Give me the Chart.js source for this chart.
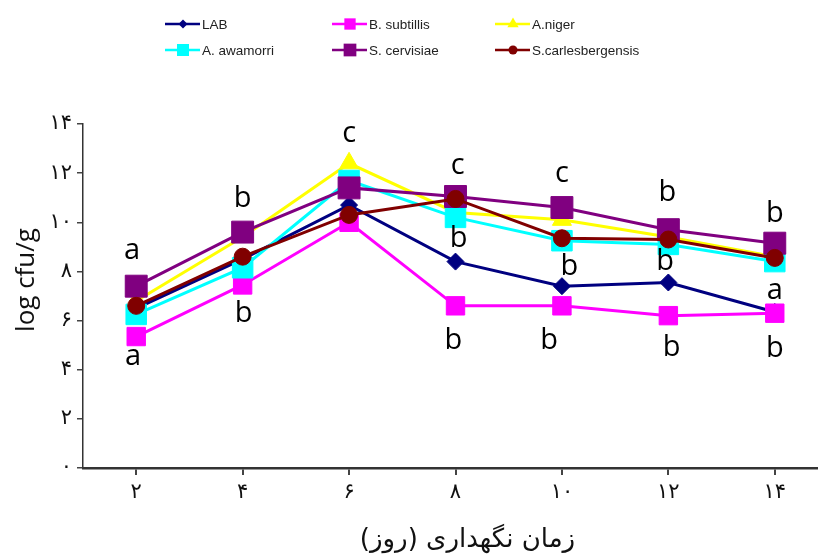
<!DOCTYPE html>
<html>
<head>
<meta charset="utf-8">
<script src="https://cdn.jsdelivr.net/npm/chart.js@4.4.1/dist/chart.umd.min.js"></script>
<style>
  html, body { margin: 0; padding: 0; background: #fff; overflow: hidden; }
  #chart { position: absolute; left: 0; top: 0; }
</style>
</head>
<body>
<canvas id="chart" width="828" height="558"></canvas>
<script>
// storage day (x) and log cfu/g (y)
const days = ['۲', '۴', '۶', '۸', '۱۰', '۱۲', '۱۴'];
const yTickLabels = ['۰', '۲', '۴', '۶', '۸', '۱۰', '۱۲', '۱۴'];
const xTitle = 'زمان نگهداری (روز)';
const yTitle = 'log cfu/g';

const seriesNames = ['LAB', 'B. subtillis', 'A.niger', 'A. awamorri', 'S. cervisiae', 'S.carlesbergensis'];
const lab = [6.5, 8.5, 10.7, 8.4, 7.4, 7.55, 6.35];
const bSubtillis = [5.35, 7.45, 10.0, 6.6, 6.6, 6.2, 6.3];
const aNiger = [6.8, 9.4, 12.4, 10.4, 10.1, 9.4, 8.6];
const aAwamorri = [6.25, 8.15, 11.7, 10.2, 9.25, 9.1, 8.4];
const sCervisiae = [7.4, 9.6, 11.4, 11.05, 10.6, 9.7, 9.15];
const sCarlesbergensis = [6.6, 8.6, 10.3, 10.95, 9.35, 9.3, 8.55];

// significance letters: category, small shift within category, y value, letter
const letterGroup = [0, 0, 1, 1, 2, 3, 3, 3, 4, 4, 4, 5, 5, 5, 6, 6, 6];
const letterShift = [-0.04, -0.03, 0, 0.01, 0, 0.02, 0.03, -0.02, 0, 0.07, -0.12, -0.01, -0.03, 0.03, 0, 0, 0];
const letterVals = [8.85, 4.5, 11.05, 6.4, 13.6, 12.3, 9.45, 5.3, 11.95, 8.3, 5.3, 11.3, 8.5, 5.0, 10.45, 7.2, 4.95];
const letterText = ['a', 'a', 'b', 'b', 'c', 'c', 'b', 'b', 'c', 'b', 'b', 'b', 'b', 'b', 'b', 'a', 'b'];

function makeSet(i, data, color, style, radius, legendRadius) {
    return {
        label: seriesNames[i],
        data: data,
        borderColor: color,
        backgroundColor: color,
        borderWidth: 3,
        pointStyle: style,
        pointRadius: radius,
        pointHoverRadius: radius,
        pointBorderWidth: 1,
        legendRadius: legendRadius,
        tension: 0,
        order: 6 - i
    };
}

const letterPlugin = {
    id: 'letters',
    afterDatasetsDraw(chart) {
        const ctx = chart.ctx;
        const xs = chart.scales.x, ys = chart.scales.y;
        ctx.save();
        ctx.font = '29px "Open Sans"';
        ctx.fillStyle = '#000';
        ctx.textAlign = 'center';
        ctx.textBaseline = 'alphabetic';
        letterText.forEach(function(t, i) {
            const m = ctx.measureText(t);
            const px = xs.getPixelForDecimal((letterGroup[i] + letterShift[i] + 0.5) / days.length);
            const py = ys.getPixelForValue(letterVals[i]);
            ctx.fillText(t, px, py + (m.actualBoundingBoxAscent - m.actualBoundingBoxDescent) / 2);
        });
        ctx.restore();
    }
};

// axis titles, placed as in the source (slightly off the axis centres)
const titlePlugin = {
    id: 'axisTitles',
    afterDraw(chart) {
        const ctx = chart.ctx;
        const a = chart.chartArea;
        ctx.save();
        ctx.fillStyle = '#111';
        ctx.textAlign = 'center';
        ctx.textBaseline = 'middle';
        ctx.font = '26px "DejaVu Sans"';
        ctx.fillText('\u200F' + xTitle + '\u200F', (a.left + a.right) / 2 + 12, a.bottom + 72);
        ctx.translate(27, (a.top + a.bottom) / 2 - 16);
        ctx.rotate(-Math.PI / 2);
        ctx.font = '26px "Open Sans"';
        ctx.fillText(yTitle, 0, 0);
        ctx.restore();
    }
};

const legendPlugin = {
    id: 'topLegend',
    afterDraw(chart) {
        const ctx = chart.ctx;
        const cols = [165, 332, 495];
        const rows = [24, 50];
        ctx.save();
        chart.data.datasets.forEach(function(ds, i) {
            const x = cols[i % 3], y = rows[Math.floor(i / 3)];
            ctx.strokeStyle = ds.borderColor;
            ctx.lineWidth = 2.5;
            ctx.beginPath();
            ctx.moveTo(x, y);
            ctx.lineTo(x + 35, y);
            ctx.stroke();
            ctx.fillStyle = ds.backgroundColor;
            Chart.helpers.drawPoint(ctx, { pointStyle: ds.pointStyle, radius: ds.legendRadius, rotation: 0, borderWidth: 0 }, x + 18, y);
            ctx.fillStyle = '#222';
            ctx.font = '13.5px "Liberation Sans"';
            ctx.textAlign = 'left';
            ctx.textBaseline = 'middle';
            ctx.fillText(ds.label, x + 37, y + 1);
        });
        ctx.restore();
    }
};

new Chart(document.getElementById('chart'), {
    type: 'line',
    data: {
        labels: days,
        datasets: [
            makeSet(0, lab, '#000080', 'rectRot', 8.5, 4.5),
            makeSet(1, bSubtillis, '#ff00ff', 'rect', 13, 8),
            makeSet(2, aNiger, '#ffff00', 'triangle', 11, 6.5),
            makeSet(3, aAwamorri, '#00ffff', 'rect', 14.5, 8.5),
            makeSet(4, sCervisiae, '#800080', 'rect', 15.5, 9),
            makeSet(5, sCarlesbergensis, '#800000', 'circle', 8.5, 4.5)
        ]
    },
    options: {
        responsive: false,
        animation: false,
        layout: { autoPadding: false, padding: { top: 124, left: 0, right: 0, bottom: 0 } },
        plugins: {
            legend: { display: false },
            tooltip: { enabled: false }
        },
        scales: {
            x: {
                type: 'category',
                offset: true,
                grid: { drawOnChartArea: false, drawTicks: true, tickLength: 7, color: '#444', lineWidth: 2 },
                border: { color: '#333', width: 2.5 },
                ticks: { font: { family: 'DejaVu Sans', size: 21 }, color: '#111', padding: 5, maxRotation: 0 },
                afterFit(s) { s.height = 90; }
            },
            y: {
                min: 0,
                max: 14,
                grid: { drawOnChartArea: false, drawTicks: true, tickLength: 6, color: '#444', lineWidth: 1.5 },
                border: { color: '#333', width: 1.5 },
                ticks: {
                    stepSize: 2,
                    font: { family: 'DejaVu Sans', size: 21 },
                    color: '#111',
                    padding: 5,
                    callback: function(v) { return yTickLabels[v / 2]; }
                },
                afterFit(s) { s.width = 83; }
            }
        }
    },
    plugins: [letterPlugin, titlePlugin, legendPlugin]
});
</script>
</body>
</html>
